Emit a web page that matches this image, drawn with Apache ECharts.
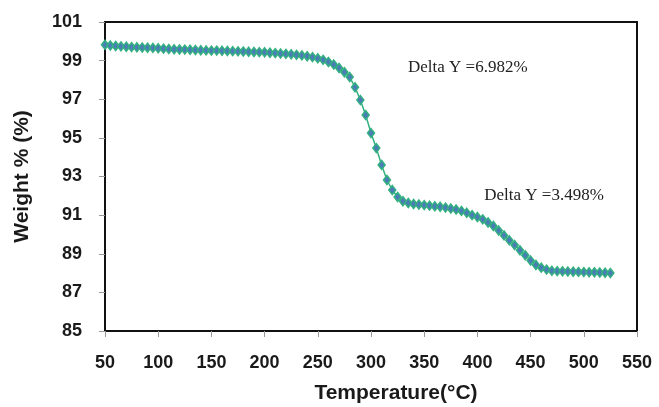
<!DOCTYPE html>
<html>
<head>
<meta charset="utf-8">
<script src="https://cdn.jsdelivr.net/npm/echarts@6/dist/echarts.min.js"></script>
<style>html,body{margin:0;padding:0;background:#fff}#c{width:659px;height:407px}</style>
</head>
<body>
<div id="c"></div>
<script>
const temperature = [50,55,60,65,70,75,80,85,90,95,100,105,110,115,120,125,130,135,140,145,150,155,160,165,170,175,180,185,190,195,200,205,210,215,220,225,230,235,240,245,250,255,260,265,270,275,280,285,290,295,300,305,310,315,320,325,330,335,340,345,350,355,360,365,370,375,380,385,390,395,400,405,410,415,420,425,430,435,440,445,450,455,460,465,470,475,480,485,490,495,500,505,510,515,520,525];
const weight = [99.82,99.78,99.76,99.74,99.72,99.70,99.69,99.68,99.67,99.66,99.64,99.62,99.60,99.59,99.58,99.57,99.56,99.55,99.54,99.53,99.52,99.52,99.51,99.50,99.49,99.48,99.47,99.46,99.45,99.44,99.43,99.41,99.39,99.37,99.35,99.33,99.30,99.27,99.23,99.18,99.12,99.04,98.93,98.80,98.62,98.40,98.15,97.62,96.96,96.18,95.25,94.47,93.60,92.82,92.30,91.94,91.72,91.63,91.58,91.55,91.52,91.49,91.46,91.43,91.39,91.34,91.29,91.22,91.12,91.00,90.90,90.78,90.62,90.44,90.20,89.95,89.70,89.45,89.18,88.92,88.65,88.42,88.28,88.18,88.12,88.10,88.09,88.08,88.07,88.06,88.05,88.04,88.04,88.03,88.02,88.00];
const annotationText = ['Delta Y =6.982%', 'Delta Y =3.498%'];
const annotationAt = [[391, 98.62], [462.6, 92.04]];
const xTitle = 'Temperature(°C)';
const yTitle = 'Weight % (%)';

const chart = echarts.init(document.getElementById('c'), null, {renderer: 'canvas'});
const labelFont = {fontFamily: 'Liberation Sans, Arial', fontWeight: 'bold', fontSize: 18, color: '#1a1a1a'};
chart.setOption({
  animation: false,
  backgroundColor: '#fff',
  grid: {left: 105, top: 22, right: 22, bottom: 76, show: true, borderColor: '#111', borderWidth: 2, backgroundColor: 'transparent', outerBoundsMode: 'none', containLabel: false},
  xAxis: {
    type: 'value', min: 50, max: 550, interval: 50,
    name: xTitle, nameLocation: 'middle', nameGap: 52,
    nameTextStyle: Object.assign({}, labelFont, {fontSize: 21, padding: [0, 0, 0, 50]}),
    axisLine: {show: true, lineStyle: {color: '#111', width: 2}},
    axisTick: {show: true, inside: false, length: 6, lineStyle: {color: '#999'}},
    axisLabel: Object.assign({margin: 23}, labelFont),
    splitLine: {show: false}
  },
  yAxis: {
    type: 'value', min: 85, max: 101, interval: 2,
    name: yTitle, nameLocation: 'middle', nameGap: 72, nameRotate: 90,
    nameTextStyle: Object.assign({}, labelFont, {fontSize: 21}),
    axisLine: {show: true, lineStyle: {color: '#111', width: 2}},
    axisTick: {show: true, inside: false, length: 6, lineStyle: {color: '#999'}},
    axisLabel: Object.assign({margin: 23}, labelFont),
    splitLine: {show: false}
  },
  series: [{
    type: 'line',
    data: temperature.map((t, i) => [t, weight[i]]),
    symbol: 'diamond', symbolSize: [7, 9],
    lineStyle: {color: '#33b07f', width: 1.5},
    itemStyle: {color: '#4a7db8', borderColor: '#33b07f', borderWidth: 1.5},
    markPoint: {
      symbol: 'circle', symbolSize: 0,
      label: {show: true, position: 'inside', fontFamily: 'Liberation Serif, Times New Roman', fontSize: 17, color: '#222', formatter: p => p.name},
      data: annotationText.map((t, i) => ({name: t, coord: annotationAt[i]}))
    }
  }]
});
</script>
</body>
</html>
